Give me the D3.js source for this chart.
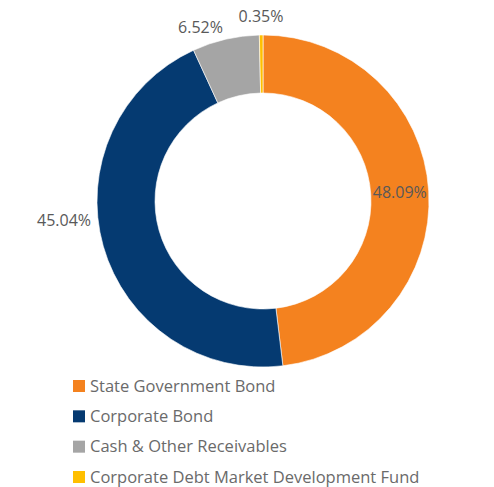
<!DOCTYPE html>
<html>
<head>
<meta charset="utf-8">
<script src="https://cdn.jsdelivr.net/npm/d3@7"></script>
<style>
  html, body { margin: 0; padding: 0; background: #fff; }
  svg { display: block; font-family: "Open Sans", "Noto Sans", sans-serif; }
</style>
</head>
<body>
<svg id="chart" width="494" height="487"></svg>
<script>
// Portfolio allocation (percent of net assets)
const categories = [
  "State Government Bond",
  "Corporate Bond",
  "Cash & Other Receivables",
  "Corporate Debt Market Development Fund"
];
const shares = [48.09, 45.04, 6.52, 0.35];
const colors = ["#F4821F", "#053A71", "#A5A5A5", "#FFBF00"];

const svg = d3.select("#chart");
const cx = 263, cy = 201;
const outerR = 166, innerR = 108;

const pie = d3.pie().sort(null).value(d => d.value);
const arcs = pie(categories.map((c, i) => ({ name: c, value: shares[i], color: colors[i] })));
const arc = d3.arc().innerRadius(innerR).outerRadius(outerR);

const g = svg.append("g").attr("transform", `translate(${cx},${cy})`);

g.selectAll("path.slice")
  .data(arcs)
  .join("path")
  .attr("class", "slice")
  .attr("d", arc)
  .attr("fill", d => d.data.color)
  .attr("stroke", "#fff")
  .attr("stroke-width", 0.6);

// Value labels: large slice inside its band, smaller slices outside the ring
const labelRules = [
  { r: (innerR + outerR) / 2, shift: 0, anchor: "middle" },
  { r: 173, shift: 9.5, anchor: "end" },
  { r: 178, shift: 0, anchor: "end" },
  { r: 185, shift: 0, anchor: "middle" }
];

g.selectAll("text.value")
  .data(arcs)
  .join("text")
  .attr("class", "value")
  .each(function (d, i) {
    const rule = labelRules[i];
    const a = (d.startAngle + d.endAngle) / 2 + rule.shift * Math.PI / 180;
    d3.select(this)
      .attr("x", Math.sin(a) * rule.r)
      .attr("y", -Math.cos(a) * rule.r)
      .attr("text-anchor", rule.anchor);
  })
  .attr("dy", "0.35em")
  .attr("font-size", 16)
  .attr("fill", "#595959")
  .text(d => d3.format(".2f")(d.data.value) + "%");

// Legend
const legendY = d3.scalePoint().domain(categories).range([386, 477]);
const legend = svg.append("g")
  .selectAll("g")
  .data(categories)
  .join("g")
  .attr("transform", d => `translate(73,${legendY(d)})`);

legend.append("rect")
  .attr("x", 0).attr("y", -6)
  .attr("width", 12).attr("height", 12)
  .attr("fill", (d, i) => colors[i]);

legend.append("text")
  .attr("x", 17)
  .attr("dy", "0.35em")
  .attr("font-size", 16.5)
  .attr("fill", "#6a6a6a")
  .text(d => d);
</script>
</body>
</html>
